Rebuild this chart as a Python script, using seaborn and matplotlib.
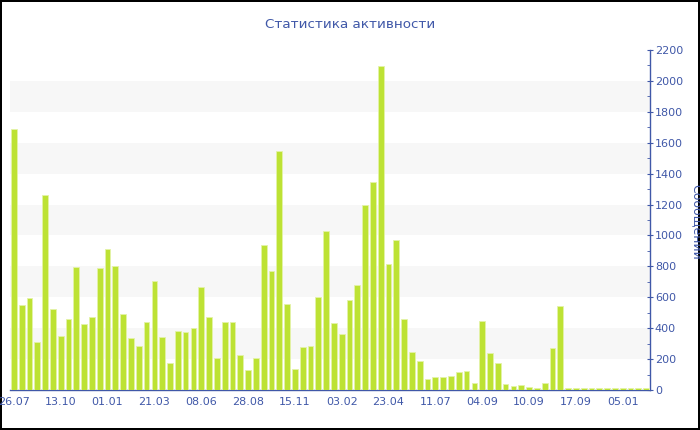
import numpy as np
import pandas as pd
import matplotlib
matplotlib.use("Agg")
import matplotlib.pyplot as plt
import seaborn as sns

# values, one per bar
messages = [1690, 552, 595, 313, 1260, 526, 347, 457, 796, 427,
            470, 792, 914, 800, 490, 334, 285, 442, 703, 343,
            177, 384, 377, 403, 664, 474, 207, 438, 440, 226,
            129, 205, 938, 768, 1544, 554, 138, 278, 287, 604,
            1027, 431, 360, 582, 681, 1195, 1346, 2096, 815, 968,
            461, 244, 185, 69, 82, 82, 91, 116, 125, 47,
            449, 242, 173, 37, 28, 34, 21, 15, 43, 270,
            546, 13, 10, 12, 11, 11, 11, 12, 14, 12,
            11, 10]
tick_labels = ['26.07', '13.10', '01.01', '21.03', '08.06', '28.08', '15.11',
               '03.02', '23.04', '11.07', '04.09', '10.09', '17.09', '05.01']
tick_step = 6

blue = '#4058a8'
green = '#bde234'

df = pd.DataFrame({'bar': np.arange(len(messages)), 'messages': messages})

sns.set_style('white')
plt.rcParams['font.family'] = ['DejaVu Sans']

fig = plt.figure(figsize=(7, 4.3), dpi=100)
ax = fig.add_axes([10 / 700, 1 - 390 / 430, 640 / 700, 340 / 430])

# alternating light bands
for lo in range(200, 2200, 400):
    ax.axhspan(lo, lo + 200, color='#f7f7f7', zorder=0, lw=0)

sns.barplot(data=df, x='bar', y='messages', color=green, saturation=1,
            width=0.74, edgecolor='#e4f3a8', linewidth=0.6, ax=ax, zorder=3)

ax.set_xlim(-0.5, len(messages) - 0.5)
ax.set_ylim(0, 2200)
ax.set_xticks(range(0, len(tick_labels) * tick_step, tick_step))
ax.set_xticklabels(tick_labels)
ax.set_xlabel('')
ax.set_ylabel('')

ax.yaxis.tick_right()
ax.set_yticks(range(0, 2201, 200))
ax.set_yticks(range(100, 2200, 200), minor=True)

for s in ['left', 'top']:
    ax.spines[s].set_visible(False)
for s in ['bottom', 'right']:
    ax.spines[s].set_color(blue)
    ax.spines[s].set_linewidth(1)
    ax.spines[s].set_zorder(2.5)

ax.tick_params(axis='x', which='major', direction='out', length=3, color=blue,
               labelcolor=blue, labelsize=8, pad=2)
ax.tick_params(axis='y', which='major', direction='inout', length=5, color=blue,
               labelcolor=blue, labelsize=8, pad=1, right=True, left=False)
ax.tick_params(axis='y', which='minor', direction='in', length=2, color=blue,
               right=True, left=False)

fig.text(0.5, 1 - 25 / 430, 'Статистика активности', ha='center', va='center',
         color=blue, fontsize=9.7)
fig.text(690 / 700, 1 - 222 / 430, 'Сообщений', rotation=270, ha='left',
         va='center', color=blue, fontsize=9)

fig.patch.set_edgecolor('black')
fig.patch.set_linewidth(1.5)
fig.savefig('out.png', dpi=100, facecolor='white', edgecolor='black')
